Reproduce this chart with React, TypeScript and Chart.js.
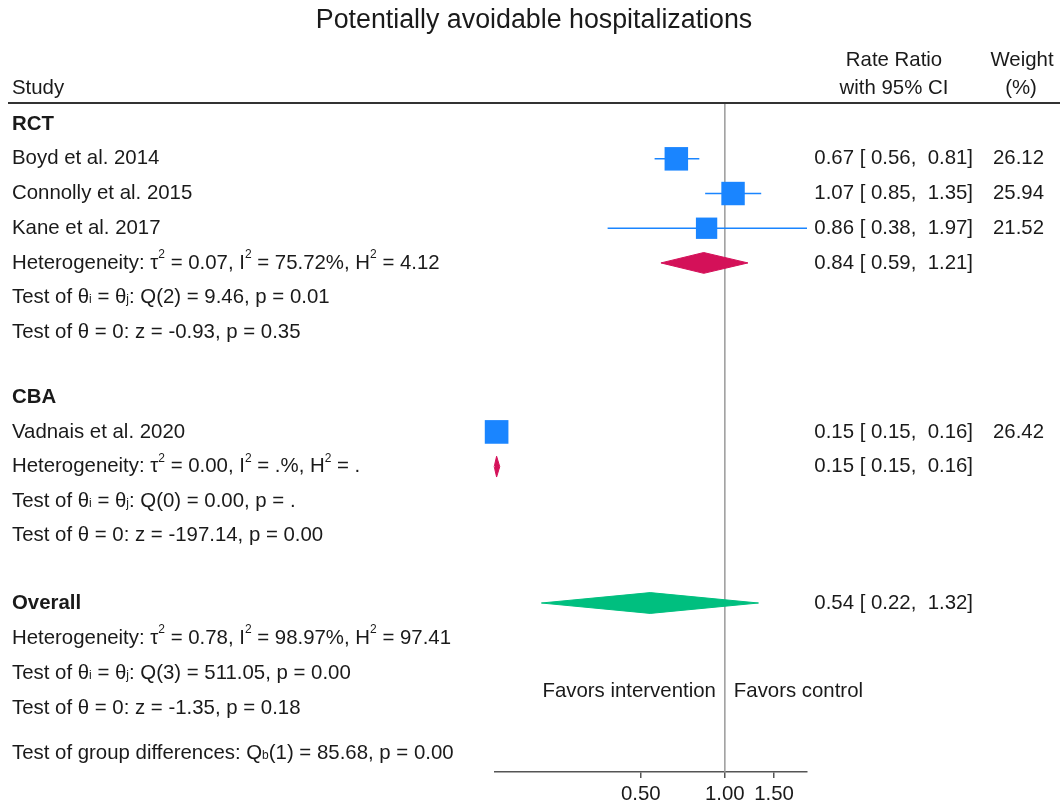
import React, { useEffect, useRef } from "react";
import { Chart, registerables } from "chart.js";

Chart.register(...registerables);

// ---------- data ----------
const chartTitle = "Potentially avoidable hospitalizations";
const headerStudy = "Study";
const headerCI = ["Rate Ratio", "with 95% CI"];
const headerWeight = ["Weight", "(%)"];

const studyNames = ["Boyd et al. 2014", "Connolly et al. 2015", "Kane et al. 2017", "Vadnais et al. 2020"];
const studyRR = [0.67, 1.07, 0.86, 0.152];
const studyLo = [0.56, 0.85, 0.38, 0.149];
const studyHi = [0.81, 1.35, 1.97, 0.156];
const studyWeight = [26.12, 25.94, 21.52, 26.42];
const studyRow = [1, 2, 3, 8.87];

const pooledNames = ["RCT", "CBA", "Overall"];
const pooledRR = [0.84, 0.152, 0.54];
const pooledLo = [0.59, 0.149, 0.22];
const pooledHi = [1.21, 0.156, 1.32];
const pooledRow = [4, 9.87, 13.8];
const pooledColors = ["#D41159", "#D41159", "#00BF7F"];

const groupHeaderRow = [0, 7.87, 13.8];

const statRows = [4, 5, 6, 9.87, 10.87, 11.86, 14.81, 15.82, 16.83, 18.13];
const statTexts = [
  "Heterogeneity: τ^{2} = 0.07, I^{2} = 75.72%, H^{2} = 4.12",
  "Test of θ_{i} = θ_{j}: Q(2) = 9.46, p = 0.01",
  "Test of θ = 0: z = -0.93, p = 0.35",
  "Heterogeneity: τ^{2} = 0.00, I^{2} = .%, H^{2} = .",
  "Test of θ_{i} = θ_{j}: Q(0) = 0.00, p = .",
  "Test of θ = 0: z = -197.14, p = 0.00",
  "Heterogeneity: τ^{2} = 0.78, I^{2} = 98.97%, H^{2} = 97.41",
  "Test of θ_{i} = θ_{j}: Q(3) = 511.05, p = 0.00",
  "Test of θ = 0: z = -1.35, p = 0.18",
  "Test of group differences: Q_{b}(1) = 85.68, p = 0.00",
];

const favorsLeft = "Favors intervention";
const favorsRight = "Favors control";
const favorsRow = 16.35;

const xTicks = [0.5, 1, 1.5];
const xMin = 0.15;
const xMax = 1.97;
const nullValue = 1;

// ---------- style ----------
const FONT = '"Liberation Sans", Arial, Helvetica, sans-serif';
const TXT = "#1a1a1a";
const BLUE = "#1A85FF";
const Y_MIN = -0.58;
const Y_MAX = 18.67;
const DIAMOND_HALF = 0.3;
const BODY = 20.4;

function parseRich(s: string) {
  const out: { t: string; k: number }[] = [];
  const re = /(\^|_)\{([^}]*)\}/g;
  let last = 0;
  let m: RegExpExecArray | null;
  while ((m = re.exec(s))) {
    if (m.index > last) out.push({ t: s.slice(last, m.index), k: 0 });
    out.push({ t: m[2], k: m[1] === "^" ? 1 : -1 });
    last = re.lastIndex;
  }
  if (last < s.length) out.push({ t: s.slice(last), k: 0 });
  return out;
}

function drawRich(ctx: CanvasRenderingContext2D, s: string, x: number, y: number, size: number, bold = false) {
  const parts = parseRich(s);
  let cx = x;
  ctx.textAlign = "left";
  ctx.textBaseline = "middle";
  for (const p of parts) {
    const sz = p.k === 0 ? size : Math.round(size * 0.58);
    ctx.font = `${bold ? "bold " : ""}${sz}px ${FONT}`;
    const dy = p.k === 1 ? -size * 0.4 : p.k === -1 ? size * 0.12 : 0;
    ctx.fillText(p.t, cx, y + dy);
    cx += ctx.measureText(p.t).width;
  }
}

const ciText = (rr: number, lo: number, hi: number) =>
  `${rr.toFixed(2)} [ ${lo.toFixed(2)},  ${hi.toFixed(2)}]`;

const forestPlugin = {
  id: "forestText",
  beforeDatasetsDraw(chart: any) {
    const ctx = chart.ctx as CanvasRenderingContext2D;
    const xs = chart.scales.x;
    const ys = chart.scales.y;
    const px = xs.getPixelForValue(nullValue);
    ctx.save();
    ctx.strokeStyle = "#9a9a9a";
    ctx.lineWidth = 1.5;
    ctx.beginPath();
    ctx.moveTo(px, ys.getPixelForValue(Y_MIN));
    ctx.lineTo(px, ys.getPixelForValue(Y_MAX));
    ctx.stroke();
    ctx.restore();
  },
  afterDraw(chart: any) {
    const ctx = chart.ctx as CanvasRenderingContext2D;
    const ys = chart.scales.y;
    const xs = chart.scales.x;
    ctx.save();
    ctx.fillStyle = TXT;
    // title
    ctx.font = `26.8px ${FONT}`;
    ctx.textAlign = "center";
    ctx.textBaseline = "middle";
    ctx.fillText(chartTitle, 534, 21);
    // headers
    ctx.font = `${BODY}px ${FONT}`;
    ctx.textAlign = "left";
    ctx.fillText(headerStudy, 12, 88);
    ctx.textAlign = "center";
    ctx.fillText(headerCI[0], 894, 60);
    ctx.fillText(headerCI[1], 894, 88);
    ctx.fillText(headerWeight[0], 1022, 60);
    ctx.fillText(headerWeight[1], 1021, 88);
    // rule
    ctx.strokeStyle = "#333";
    ctx.lineWidth = 2;
    ctx.beginPath();
    ctx.moveTo(8, 103);
    ctx.lineTo(1060, 103);
    ctx.stroke();

    ctx.fillStyle = TXT;
    // group headers
    pooledNames.forEach((n, i) => drawRich(ctx, n, 12, ys.getPixelForValue(groupHeaderRow[i]), BODY, true));
    // studies
    studyNames.forEach((n, i) => {
      const y = ys.getPixelForValue(studyRow[i]);
      drawRich(ctx, n, 12, y, BODY);
      ctx.font = `${BODY}px ${FONT}`;
      ctx.textAlign = "right";
      ctx.textBaseline = "middle";
      ctx.fillText(ciText(studyRR[i], studyLo[i], studyHi[i]), 973, y);
      ctx.fillText(studyWeight[i].toFixed(2), 1044, y);
    });
    // pooled CI text
    pooledNames.forEach((_, i) => {
      const y = ys.getPixelForValue(pooledRow[i]);
      ctx.font = `${BODY}px ${FONT}`;
      ctx.textAlign = "right";
      ctx.textBaseline = "middle";
      ctx.fillText(ciText(pooledRR[i], pooledLo[i], pooledHi[i]), 973, y);
    });
    // stats
    statTexts.forEach((t, i) => drawRich(ctx, t, 12, ys.getPixelForValue(statRows[i]), BODY));
    // favors
    const fx = xs.getPixelForValue(nullValue);
    const fy = ys.getPixelForValue(favorsRow);
    ctx.font = `${BODY}px ${FONT}`;
    ctx.textBaseline = "middle";
    ctx.textAlign = "right";
    ctx.fillText(favorsLeft, fx - 9, fy);
    ctx.textAlign = "left";
    ctx.fillText(favorsRight, fx + 9, fy);
    ctx.restore();
  },
};

export default function App() {
  const ref = useRef<HTMLCanvasElement | null>(null);
  useEffect(() => {
    if (!ref.current) return;
    const squareSide = (w: number) => 4.6 * Math.sqrt(w);
    const datasets: any[] = [];
    datasets.push({
      type: "scatter",
      data: studyRR.map((v, i) => ({ x: v, y: studyRow[i] })),
      pointStyle: "rect",
      pointRadius: studyWeight.map((w) => squareSide(w) / Math.SQRT2),
      backgroundColor: BLUE,
      borderWidth: 0,
      clip: false,
    });
    studyRR.forEach((_, i) => {
      datasets.push({
        type: "line",
        data: [
          { x: studyLo[i], y: studyRow[i] },
          { x: studyHi[i], y: studyRow[i] },
        ],
        borderColor: BLUE,
        borderWidth: 1.5,
        pointRadius: 0,
        fill: false,
        clip: false,
      });
    });
    pooledRR.forEach((v, i) => {
      const r = pooledRow[i];
      datasets.push({
        type: "line",
        data: [
          { x: pooledLo[i], y: r },
          { x: v, y: r - DIAMOND_HALF },
          { x: pooledHi[i], y: r },
          { x: v, y: r + DIAMOND_HALF },
          { x: pooledLo[i], y: r },
        ],
        borderColor: pooledColors[i],
        backgroundColor: pooledColors[i],
        borderWidth: 1,
        pointRadius: 0,
        fill: "shape",
        tension: 0,
        clip: false,
      });
    });

    const chart = new Chart(ref.current, {
      type: "scatter",
      data: { datasets },
      options: {
        responsive: false,
        animation: false,
        events: [],
        layout: { padding: { left: 495, right: 253, top: 104, bottom: 0 } },
        plugins: { legend: { display: false }, tooltip: { enabled: false }, title: { display: false } },
        scales: {
          x: {
            type: "logarithmic",
            min: xMin,
            max: xMax,
            afterBuildTicks: (s: any) => {
              s.ticks = xTicks.map((v) => ({ value: v }));
            },
            afterFit: (s: any) => {
              s.height = 35;
            },
            ticks: {
              callback: (v: any) => Number(v).toFixed(2),
              font: { family: FONT, size: BODY },
              color: TXT,
              padding: 4,
              autoSkip: false,
              maxRotation: 0,
            },
            grid: { drawOnChartArea: false, drawTicks: true, tickLength: 6, color: "#555", lineWidth: 1.5 },
            border: { display: true, color: "#555", width: 1.5 },
          },
          y: { type: "linear", min: Y_MIN, max: Y_MAX, reverse: true, display: false },
        },
      } as any,
      plugins: [forestPlugin],
    });
    return () => chart.destroy();
  }, []);
  return (
    <div style={{ position: "absolute", left: 0, top: 0, width: 1060, height: 807, background: "#fff" }}>
      <canvas ref={ref} width={1060} height={807} />
    </div>
  );
}
